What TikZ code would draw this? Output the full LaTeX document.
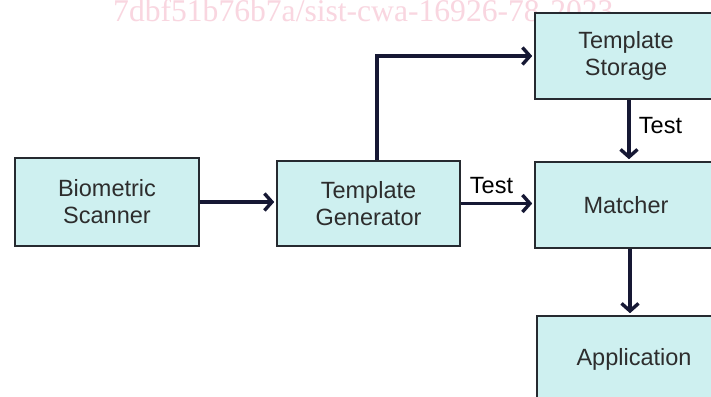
\documentclass[tikz,border=0pt]{standalone}
\usepackage{fontspec}
\setmainfont{Liberation Sans}
\newfontfamily\wmfont{Liberation Serif}
\usetikzlibrary{arrows.meta}
\definecolor{boxfill}{RGB}{206,240,240}
\definecolor{boxline}{RGB}{38,42,48}
\definecolor{arrowcol}{RGB}{22,24,52}
\definecolor{wmpink}{RGB}{249,214,224}
\definecolor{boxtext}{RGB}{45,45,45}
\tikzset{
  blockbox/.style={draw=boxline, fill=boxfill, line width=1.6pt, inner sep=0pt,
    text=boxtext, align=center, font=\fontsize{23.5}{27}\selectfont},
  flowarrow/.style={draw=arrowcol, line width=3.8pt, shorten >=2pt,
    -{Straight Barb[length=7.5pt,width=17pt,line width=3.4pt]}},
  arrowlabel/.style={font=\fontsize{23.5}{27}\selectfont, text=black, inner sep=3pt}
}
\begin{document}
\begin{tikzpicture}[x=1pt,y=-1pt]
\useasboundingbox (0,0) rectangle (711,396);
\fill[white] (0,0) rectangle (711,396);
\clip (0,0) rectangle (711,396);
\node[anchor=base west, inner sep=0pt, text=wmpink, font=\wmfont\fontsize{31.6}{34}\selectfont] (wm) at (113,22) {7dbf51b76b7a/sist-cwa-16926-78-2023};
\node[blockbox, minimum width=184pt, minimum height=88pt] (BS) at (107,202) {Biometric\\Scanner};
\node[blockbox, minimum width=183pt, minimum height=85pt] (TG) at (368.5,203.5) {Template\\Generator};
\node[blockbox, minimum width=182pt, minimum height=86pt] (TS) at (626,56) {Template\\Storage};
\node[blockbox, minimum width=182pt, minimum height=86pt] (M) at (626,205) {Matcher};
\node[blockbox, minimum width=194pt, minimum height=86pt] (A) at (634,359) {Application};
\draw[flowarrow] (BS.east) -- (BS.east -| TG.west);
\draw[flowarrow] (TG.east) -- (TG.east -| M.west)
  node[arrowlabel, midway, above=5pt, xshift=-6pt] (t1) {Test};
\draw[flowarrow] ([xshift=8.5pt]TG.north) |- (TS.west);
\draw[flowarrow] ([xshift=3pt]TS.south) -- ([xshift=3pt]M.north)
  node[arrowlabel, midway, right=5pt, yshift=4.5pt] (t2) {Test};
\draw[flowarrow] ([xshift=4pt]M.south) -- ([xshift=4pt]M.south |- A.north);
\end{tikzpicture}
\end{document}
